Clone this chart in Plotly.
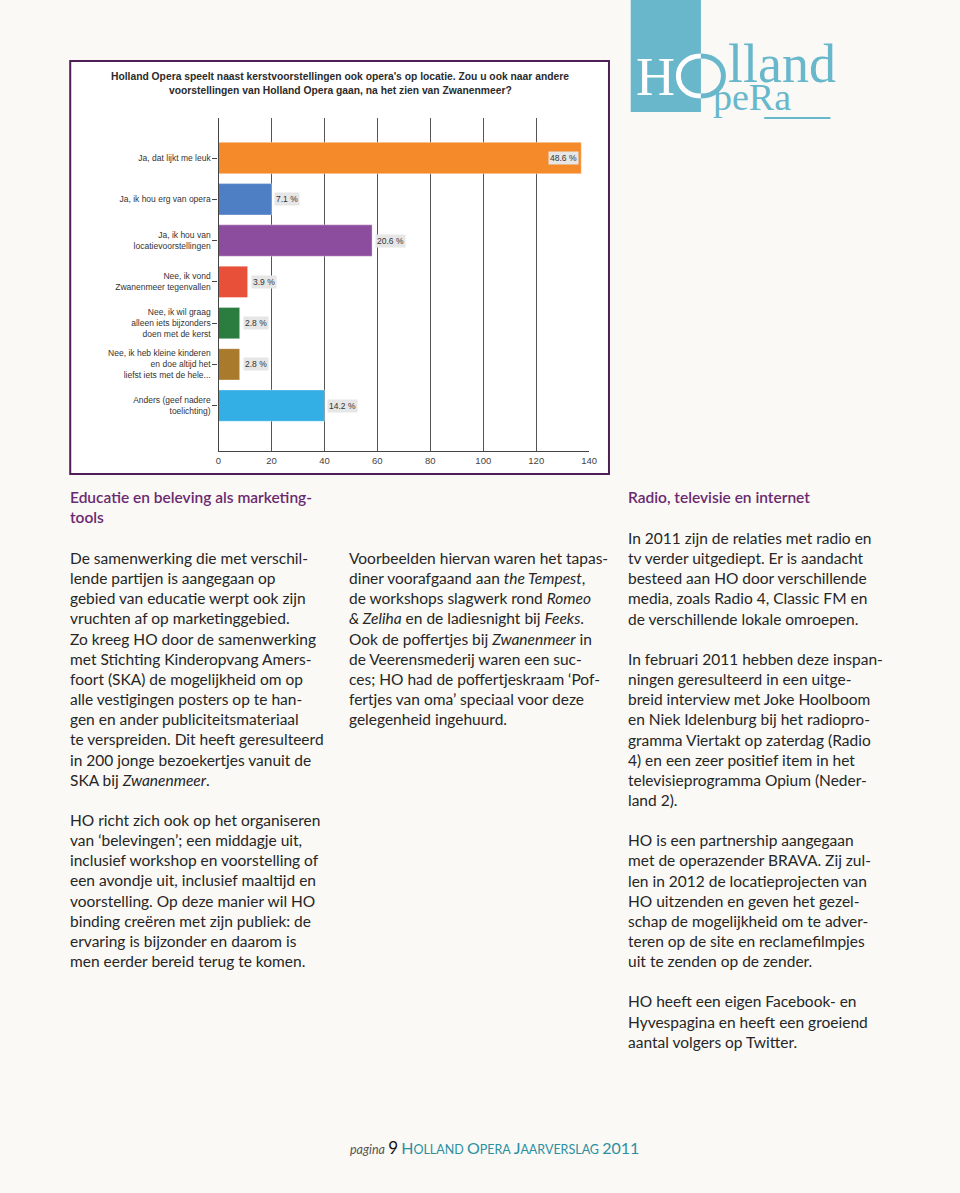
import plotly.graph_objects as go

W, H = 960, 1193

# ---------------- data ----------------
categories = [
    "Ja, dat lijkt me leuk",
    "Ja, ik hou erg van opera",
    "Ja, ik hou van<br>locatievoorstellingen",
    "Nee, ik vond<br>Zwanenmeer tegenvallen",
    "Nee, ik wil graag<br>alleen iets bijzonders<br>doen met de kerst",
    "Nee, ik heb kleine kinderen<br>en doe altijd het<br>liefst iets met de hele...",
    "Anders (geef nadere<br>toelichting)",
]
counts = [137, 20, 58, 11, 8, 8, 40]
pct_labels = ["48.6 %", "7.1 %", "20.6 %", "3.9 %", "2.8 %", "2.8 %", "14.2 %"]
bar_colors = ["#f58a2b", "#4e7ec4", "#8d4d9e", "#e8503a", "#2b7c3f", "#a97a2c", "#34afe6"]
x_ticks = [0, 20, 40, 60, 80, 100, 120, 140]
title_lines = [
    "Holland Opera speelt naast kerstvoorstellingen ook opera's op locatie. Zou u ook naar andere",
    "voorstellingen van Holland Opera gaan, na het zien van Zwanenmeer?",
]

col1_head = "Educatie en beleving als marketing-<br>tools"
col1_body = [
    "De samenwerking die met verschil-",
    "lende partijen is aangegaan op",
    "gebied van educatie werpt ook zijn",
    "vruchten af op marketinggebied.",
    "Zo kreeg HO door de samenwerking",
    "met Stichting Kinderopvang Amers-",
    "foort (SKA) de mogelijkheid om op",
    "alle vestigingen posters op te han-",
    "gen en ander publiciteitsmateriaal",
    "te verspreiden. Dit heeft geresulteerd",
    "in 200 jonge bezoekertjes vanuit de",
    "SKA bij <i>Zwanenmeer</i>.",
    "",
    "HO richt zich ook op het organiseren",
    "van ‘belevingen’; een middagje uit,",
    "inclusief workshop en voorstelling of",
    "een avondje uit, inclusief maaltijd en",
    "voorstelling. Op deze manier wil HO",
    "binding creëren met zijn publiek: de",
    "ervaring is bijzonder en daarom is",
    "men eerder bereid terug te komen.",
]
col2_body = [
    "Voorbeelden hiervan waren het tapas-",
    "diner voorafgaand aan <i>the Tempest</i>,",
    "de workshops slagwerk rond <i>Romeo</i>",
    "<i>&amp; Zeliha</i> en de ladiesnight bij <i>Feeks</i>.",
    "Ook de poffertjes bij <i>Zwanenmeer</i> in",
    "de Veerensmederij waren een suc-",
    "ces; HO had de poffertjeskraam ‘Pof-",
    "fertjes van oma’ speciaal voor deze",
    "gelegenheid ingehuurd.",
]
col3_head = "Radio, televisie en internet"
col3_body = [
    "In 2011 zijn de relaties met radio en",
    "tv verder uitgediept. Er is aandacht",
    "besteed aan HO door verschillende",
    "media, zoals Radio 4, Classic FM en",
    "de verschillende lokale omroepen.",
    "",
    "In februari 2011 hebben deze inspan-",
    "ningen geresulteerd in een uitge-",
    "breid interview met Joke Hoolboom",
    "en Niek Idelenburg bij het radiopro-",
    "gramma Viertakt op zaterdag (Radio",
    "4) en een zeer positief item in het",
    "televisieprogramma Opium (Neder-",
    "land 2).",
    "",
    "HO is een partnership aangegaan",
    "met de operazender BRAVA. Zij zul-",
    "len in 2012 de locatieprojecten van",
    "HO uitzenden en geven het gezel-",
    "schap de mogelijkheid om te adver-",
    "teren op de site en reclamefilmpjes",
    "uit te zenden op de zender.",
    "",
    "HO heeft een eigen Facebook- en",
    "Hyvespagina en heeft een groeiend",
    "aantal volgers op Twitter.",
]

# ---------------- helpers ----------------
def px(x):
    return x / W

def py(y):
    return 1 - y / H

TEAL = "#69b7cb"
PURPLE = "#6b2a70"
BODY = "#262626"
BODY_FONT = "Lato, 'Noto Sans', sans-serif"
BG = "#faf9f6"

positions = list(range(len(categories)))

fig = go.Figure()
fig.add_trace(go.Bar(
    orientation="h",
    x=counts,
    y=positions,
    width=0.76,
    marker=dict(color=bar_colors, line=dict(color="rgba(255,255,255,0.35)", width=1)),
    hoverinfo="skip",
    showlegend=False,
))

annotations = []
# value labels
for i, (c, lab) in enumerate(zip(counts, pct_labels)):
    inside = i == 0
    annotations.append(dict(x=c, y=i, xref="x", yref="y", text=lab, showarrow=False,
                            xanchor="right" if inside else "left", xshift=-2 if inside else 3,
                            bgcolor="#e6e6e6",
                            font=dict(family="Liberation Sans, Arial", size=8.5, color="#333")))

# chart title (two lines)
for line, yy in zip(title_lines, [77, 91]):
    annotations.append(dict(x=px(341), y=py(yy), xref="paper", yref="paper", text="<b>" + line + "</b>",
                            showarrow=False, xanchor="center", yanchor="middle", align="center",
                            font=dict(family="Liberation Sans, Arial", size=10.3, color="#2b2b2b")))

# column texts
annotations.append(dict(x=px(66), y=py(486), xref="paper", yref="paper", text=col1_head,
                        showarrow=False, xanchor="left", yanchor="top", align="left",
                        font=dict(family=BODY_FONT, size=15.5, color=PURPLE, weight=600)))
annotations.append(dict(x=px(66), y=py(547), xref="paper", yref="paper", text="<br>".join(col1_body),
                        showarrow=False, xanchor="left", yanchor="top", align="left",
                        font=dict(family=BODY_FONT, size=15.5, color=BODY)))
annotations.append(dict(x=px(348), y=py(547), xref="paper", yref="paper", text="<br>".join(col2_body),
                        showarrow=False, xanchor="left", yanchor="top", align="left",
                        font=dict(family=BODY_FONT, size=15.5, color=BODY)))
annotations.append(dict(x=px(630), y=py(486), xref="paper", yref="paper", text=col3_head,
                        showarrow=False, xanchor="left", yanchor="top", align="left",
                        font=dict(family=BODY_FONT, size=15.5, color=PURPLE, weight=600)))
annotations.append(dict(x=px(630), y=py(527), xref="paper", yref="paper", text="<br>".join(col3_body),
                        showarrow=False, xanchor="left", yanchor="top", align="left",
                        font=dict(family=BODY_FONT, size=15.5, color=BODY)))

# footer
footer = ("<span style='color:#555'><i>pagina</i></span> <span style='color:#111;font-size:17px'>9</span> "
          "<span style='color:#2a8fa0'><span style='font-size:16px'>H</span>OLLAND "
          "<span style='font-size:16px'>O</span>PERA <span style='font-size:16px'>J</span>AARVERSLAG "
          "<span style='font-size:16px'>2011</span></span>")
annotations.append(dict(x=px(349), y=py(1147), xref="paper", yref="paper", text=footer,
                        showarrow=False, xanchor="left", yanchor="middle", align="left",
                        font=dict(family="Lato, sans-serif", size=12.5, color="#2a8fa0")))

# logo texts
SERIF = "Liberation Serif, DejaVu Serif, serif"
annotations.append(dict(x=px(660), y=py(77), xref="paper", yref="paper", text="H", showarrow=False,
                        xanchor="center", yanchor="middle", font=dict(family=SERIF, size=54, color="white")))
annotations.append(dict(x=px(731), y=py(64), xref="paper", yref="paper", text="lland", showarrow=False,
                        xanchor="left", yanchor="middle",
                        font=dict(family=SERIF, size=54, color=TEAL)))
annotations.append(dict(x=px(716), y=py(97), xref="paper", yref="paper", text="peRa", showarrow=False,
                        xanchor="left", yanchor="middle",
                        font=dict(family=SERIF, size=38, color=TEAL)))

shapes = [
    # chart frame
    dict(type="rect", xref="paper", yref="paper", x0=px(68), x1=px(613), y0=py(474), y1=py(61),
         line=dict(color="#4e1f57", width=2), fillcolor="white", layer="below"),
    # logo block
    dict(type="rect", xref="paper", yref="paper", x0=px(635), x1=px(706), y0=py(112), y1=1.0,
         line=dict(width=0), fillcolor=TEAL, layer="below"),
    # logo underline
    dict(type="line", xref="paper", yref="paper", x0=px(770), x1=px(837), y0=py(118), y1=py(118),
         line=dict(color=TEAL, width=2)),
    # logo O : left half white, right half teal
    dict(type="path", xref="paper", yref="paper", xsizemode="pixel", ysizemode="pixel",
         xanchor=px(706), yanchor=py(76), path="M 0,-20 C -30,-20 -30,20 0,20",
         line=dict(color="white", width=5)),
    dict(type="path", xref="paper", yref="paper", xsizemode="pixel", ysizemode="pixel",
         xanchor=px(706), yanchor=py(76), path="M 0,-20 C 30,-20 30,20 0,20",
         line=dict(color=TEAL, width=5)),
]

fig.update_layout(
    width=W, height=H,
    margin=dict(l=0, r=0, t=0, b=0),
    paper_bgcolor=BG,
    plot_bgcolor="white",
    bargap=0.2,
    xaxis=dict(domain=[px(218), px(593)], range=[0, 140], tickvals=x_ticks,
               showgrid=True, gridcolor="#555", gridwidth=1.3, zeroline=False,
               showline=True, linecolor="#444", linewidth=1.3,
               ticks="outside", ticklen=0,
               tickfont=dict(family="Liberation Sans, Arial", size=9.5, color="#444")),
    yaxis=dict(domain=[py(451), py(118)], range=[7.1, -0.97], tickvals=positions, ticktext=categories,
               showgrid=False, zeroline=False, showline=True, linecolor="#444", linewidth=1.3,
               ticks="outside", ticklen=5, tickcolor="#444",
               tickfont=dict(family="Liberation Sans, Arial", size=8.5, color="#333")),
    annotations=annotations,
    shapes=shapes,
)

fig.write_html(
    "out.html",
    config={"displayModeBar": False},
    post_script="document.body.style.margin='0px';document.body.style.background='%s';" % BG,
)
